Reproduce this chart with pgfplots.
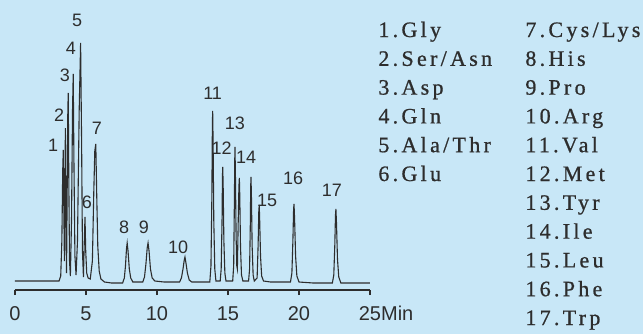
\documentclass[border=0pt]{standalone}
\usepackage{pgfplots}
\usepackage{pgfplotstable}
\pgfplotsset{compat=1.18}
\usepackage{fontspec}
\setmainfont{Liberation Sans}
\newfontfamily\legfont[LetterSpace=15,FakeBold=0.8]{Liberation Serif}
\definecolor{bg}{RGB}{200,231,247}
\definecolor{ink}{RGB}{45,45,45}

\pgfplotstableread{
t v
0.00 0
1.50 0
3.10 0
3.22 5
3.30 40
3.36 110
3.40 131
3.44 70
3.48 20
3.51 90
3.55 153
3.59 60
3.63 8
3.68 100
3.72 170
3.75 188
3.79 100
3.84 20
3.90 5
3.98 60
4.05 170
4.10 207
4.15 120
4.22 25
4.30 6
4.40 40
4.52 170
4.62 238
4.69 140
4.75 30
4.82 4
4.88 40
4.93 64
4.98 30
5.05 8
5.15 3
5.30 2
5.45 20
5.55 90
5.62 130
5.69 137
5.75 90
5.83 35
5.93 10
6.05 2
6.30 -1
6.80 -2
7.58 -2
7.70 3
7.78 15
7.85 32
7.90 38
7.96 30
8.05 12
8.15 3
8.30 -1
9.00 -1
9.12 4
9.22 17
9.31 33
9.37 38
9.44 30
9.54 12
9.66 3
9.85 0
10.50 -1
11.59 -1
11.72 3
11.83 12
11.92 21
11.97 24
12.04 18
12.14 8
12.27 1
12.45 -1
13.72 -1
13.80 15
13.86 80
13.90 155
13.92 170
13.95 140
14.00 60
14.07 12
14.15 0
14.45 0
14.52 12
14.58 60
14.61 105
14.63 114
14.66 95
14.71 40
14.78 8
14.86 0
15.33 0
15.40 15
15.45 80
15.48 125
15.49 134
15.52 110
15.57 45
15.62 15
15.66 12
15.72 60
15.77 95
15.80 103
15.83 85
15.88 35
15.95 6
16.05 0
16.45 0
16.52 12
16.57 55
16.60 95
16.62 104
16.65 85
16.70 35
16.77 6
16.85 0
17.05 3
17.12 35
17.17 70
17.20 76
17.23 62
17.29 25
17.37 5
17.50 0
18.00 -1
19.40 -1
19.50 8
19.57 40
19.62 72
19.65 77
19.69 62
19.76 25
19.85 5
20.00 -1
21.00 -2
22.35 -2
22.45 6
22.52 35
22.57 66
22.60 72
22.64 58
22.71 22
22.80 4
22.95 -2
24.00 -2
25.00 -2
}\chrom

\pgfplotstableread{
t v lab
2.68 136 1
3.10 166 2
3.52 206 3
3.94 233 4
4.37 261 5
5.07 79 6
5.77 153 7
7.68 54 8
9.08 54 9
11.48 34 10
13.92 188 11
14.56 133 12
15.49 158 13
16.27 124 14
17.75 81 15
19.58 103 16
22.32 91 17
}\labels

\begin{document}
\begin{tikzpicture}
\fill[bg] (0,0) rectangle (321.5pt,167pt);
\begin{axis}[
  at={(7.5pt,22pt)}, anchor=south west,
  scale only axis, width=177.5pt, height=145pt,
  xmin=0, xmax=25, ymin=-9, ymax=281,
  axis x line*=bottom, axis y line=none,
  axis line style={ink, line width=0.6pt, -},
  xtick={0,5,10,15,20,25},
  xticklabels={0,5,10,15,20,25\rlap{Min}},
  tick align=outside, major tick length=2.5pt,
  tick style={ink, line width=0.6pt},
  xticklabel style={font=\fontsize{10}{11}\selectfont, text=ink, anchor=north, inner sep=0pt, yshift=-5.5pt},
  /pgf/number format/assume math mode=true,
  clip=false,
]
\addplot[ink, line width=0.55pt] table[x=t,y=v]{\chrom};
\addplot[draw=none, mark=none, nodes near coords, point meta=explicit symbolic,
  every node near coord/.append style={anchor=center, font=\fontsize{9}{10}\selectfont, text=ink, inner sep=0pt}]
  table[x=t,y=v,meta=lab]{\labels};
\end{axis}
\begin{scope}[every node/.style={anchor=base west, inner sep=0pt, text=ink, font=\legfont\fontsize{11}{12}\selectfont}]
\node at (189pt,148.5pt) {1.Gly};
\node at (189pt,134.1pt) {2.Ser/Asn};
\node at (189pt,119.7pt) {3.Asp};
\node at (189pt,105.3pt) {4.Gln};
\node at (189pt,90.9pt) {5.Ala/Thr};
\node at (189pt,76.5pt) {6.Glu};
\node at (262.5pt,148.5pt) {7.Cys/Lys};
\node at (262.5pt,134.1pt) {8.His};
\node at (262.5pt,119.7pt) {9.Pro};
\node at (262.5pt,105.3pt) {10.Arg};
\node at (262.5pt,90.9pt) {11.Val};
\node at (262.5pt,76.5pt) {12.Met};
\node at (262.5pt,62.1pt) {13.Tyr};
\node at (262.5pt,47.7pt) {14.Ile};
\node at (262.5pt,33.3pt) {15.Leu};
\node at (262.5pt,18.9pt) {16.Phe};
\node at (262.5pt,4.5pt) {17.Trp};
\end{scope}
\pgfresetboundingbox
\useasboundingbox (0,0) rectangle (321.5pt,167pt);
\end{tikzpicture}
\end{document}
